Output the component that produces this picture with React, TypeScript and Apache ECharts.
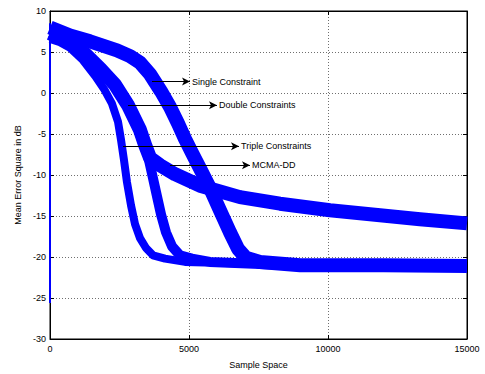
import React, { useEffect, useRef } from "react";
import * as echarts from "echarts";

// Axis ticks
const xTicks = [0, 5000, 10000, 15000];
const yTicks = [-30, -25, -20, -15, -10, -5, 0, 5, 10];

// Curves: [sample, dB]
const singleConstraint: [number, number][] = [
  [0, 8.0], [719, 7.0], [1439, 6.3], [2410, 5.2], [2878, 4.5], [3237, 3.7],
  [3597, 2.3], [3993, 0.2], [4317, -1.7], [4604, -3.7], [4856, -5.6],
  [5108, -7.3], [5396, -9.2], [5755, -11.6], [6115, -14.3], [6475, -17.0],
  [6763, -19.0], [7050, -20.1], [7554, -20.6], [9000, -21.0], [12000, -21.0],
  [15000, -21.1],
];
const doubleConstraints: [number, number][] = [
  [0, 7.3], [719, 6.1], [1259, 4.8], [1799, 3.0], [2338, 1.0], [2806, -1.5],
  [3237, -4.5], [3417, -6.3], [3561, -8.2], [3705, -10.4], [3849, -12.6],
  [3993, -14.8], [4173, -17.0], [4388, -18.7], [4676, -19.8], [5108, -20.2],
  [5755, -20.6], [8000, -20.9], [11000, -21.0], [15000, -21.0],
];
const tripleConstraints: [number, number][] = [
  [0, 6.6], [360, 6.2], [719, 5.5], [1187, 4.0], [1619, 2.1], [1942, 0.5],
  [2230, -1.3], [2446, -3.5], [2554, -5.7], [2662, -8.2], [2770, -10.9],
  [2914, -13.7], [3058, -16.0], [3237, -17.7], [3453, -18.9], [3705, -19.8],
  [4137, -20.2], [4856, -20.6], [7000, -20.8], [10000, -21.0], [15000, -21.0],
];
const mcmaDD: [number, number][] = [
  [0, 7.3], [719, 6.1], [1259, 4.8], [1799, 3.0], [2338, 1.0], [2806, -1.5],
  [3237, -4.5], [3417, -6.3], [3597, -7.9], [3957, -8.8], [4496, -9.9],
  [5396, -11.3], [6835, -12.7], [8273, -13.5], [10072, -14.3], [11871, -14.9],
  [13309, -15.4], [15000, -15.9],
];
const initialSpike: [number, number][] = [[0, -25.6], [0, 8.5]];

// Annotation arrows: label, start point, arrow tip
const annotationNames = ["Single Constraint", "Double Constraints", "Triple Constraints", "MCMA-DD"];
const annotationStart: [number, number][] = [[3669, 1.4], [2806, -1.5], [2626, -6.5], [4316, -8.8]];
const annotationEnd: [number, number][] = [[5036, 1.4], [6007, -1.5], [6799, -6.5], [7194, -8.8]];

const FONT = "'Liberation Sans', Arial, Helvetica, sans-serif";
const BLUE = "#0000ff";

export default function App() {
  const ref = useRef<HTMLDivElement>(null);

  useEffect(() => {
    if (!ref.current) return;
    const chart = echarts.init(ref.current, undefined, { renderer: "svg" });

    const curve = (name: string, data: [number, number][], width: number) => ({
      name,
      type: "line",
      data,
      showSymbol: false,
      symbol: "none",
      clip: true,
      lineStyle: { color: BLUE, width, join: "round", cap: "butt" },
      z: 2,
    });

    const gridLine = { show: true, lineStyle: { color: "#6f6f6f", type: [1, 2], width: 1 } };

    const option = {
      animation: false,
      backgroundColor: "#fff",
      textStyle: { fontFamily: FONT },
      grid: {
        left: 50,
        right: 18,
        top: 11,
        bottom: 35,
        show: true,
        borderColor: "#000",
        borderWidth: 1,
        backgroundColor: "transparent",
      },
      xAxis: [
        {
          type: "value",
          min: xTicks[0],
          max: xTicks[xTicks.length - 1],
          interval: 5000,
          name: "Sample Space",
          nameLocation: "middle",
          nameGap: 21,
          nameTextStyle: { fontSize: 9, color: "#000", fontFamily: FONT },
          axisLine: { show: true, onZero: false, lineStyle: { color: "#000", width: 1 } },
          axisTick: { show: true, inside: true, length: 4, lineStyle: { color: "#000" } },
          axisLabel: { fontSize: 9, color: "#000", margin: 5, fontFamily: FONT, formatter: (v: number) => String(v) },
          splitLine: gridLine,
        },
        {
          type: "value",
          position: "top",
          min: xTicks[0],
          max: xTicks[xTicks.length - 1],
          interval: 5000,
          axisLine: { show: true, onZero: false, lineStyle: { color: "#000", width: 1 } },
          axisTick: { show: true, inside: true, length: 4, lineStyle: { color: "#000" } },
          axisLabel: { show: false },
          splitLine: { show: false },
        },
      ],
      yAxis: [
        {
          type: "value",
          min: yTicks[0],
          max: yTicks[yTicks.length - 1],
          interval: 5,
          name: "Mean Error Square in dB",
          nameLocation: "middle",
          nameGap: 27,
          nameTextStyle: { fontSize: 9, color: "#000", fontFamily: FONT },
          axisLine: { show: true, onZero: false, lineStyle: { color: "#000", width: 1 } },
          axisTick: { show: true, inside: true, length: 4, lineStyle: { color: "#000" } },
          axisLabel: { fontSize: 9, color: "#000", margin: 4, fontFamily: FONT, formatter: (v: number) => String(v) },
          splitLine: gridLine,
        },
        {
          type: "value",
          position: "right",
          min: yTicks[0],
          max: yTicks[yTicks.length - 1],
          interval: 5,
          axisLine: { show: true, onZero: false, lineStyle: { color: "#000", width: 1 } },
          axisTick: { show: true, inside: true, length: 4, lineStyle: { color: "#000" } },
          axisLabel: { show: false },
          splitLine: { show: false },
        },
      ],
      series: [
        curve("Single Constraint", singleConstraint, 14),
        curve("Double Constraints", doubleConstraints, 10),
        curve("Triple Constraints", tripleConstraints, 8),
        curve("MCMA-DD", mcmaDD, 14),
        {
          name: "start",
          type: "line",
          data: initialSpike,
          showSymbol: false,
          symbol: "none",
          clip: true,
          lineStyle: { color: BLUE, width: 2 },
          z: 3,
        },
        {
          name: "annotations",
          type: "line",
          data: [],
          z: 10,
          markLine: {
            silent: true,
            animation: false,
            symbolSize: [6, 8],
            lineStyle: { color: "#000", width: 1, type: "solid" },
            label: {
              show: true,
              position: "end",
              distance: 2,
              color: "#000",
              fontSize: 9,
              fontFamily: FONT,
              formatter: (p: any) => p.name,
            },
            data: annotationNames.map((n, i) => [
              { name: n, coord: annotationStart[i], symbol: "none" },
              { name: n, coord: annotationEnd[i], symbol: "arrow" },
            ]),
          },
        },
      ],
    };

    chart.setOption(option as any);
    return () => chart.dispose();
  }, []);

  return (
    <div
      ref={ref}
      style={{ position: "fixed", left: 0, top: 0, width: 485, height: 374, background: "#fff" }}
    />
  );
}
